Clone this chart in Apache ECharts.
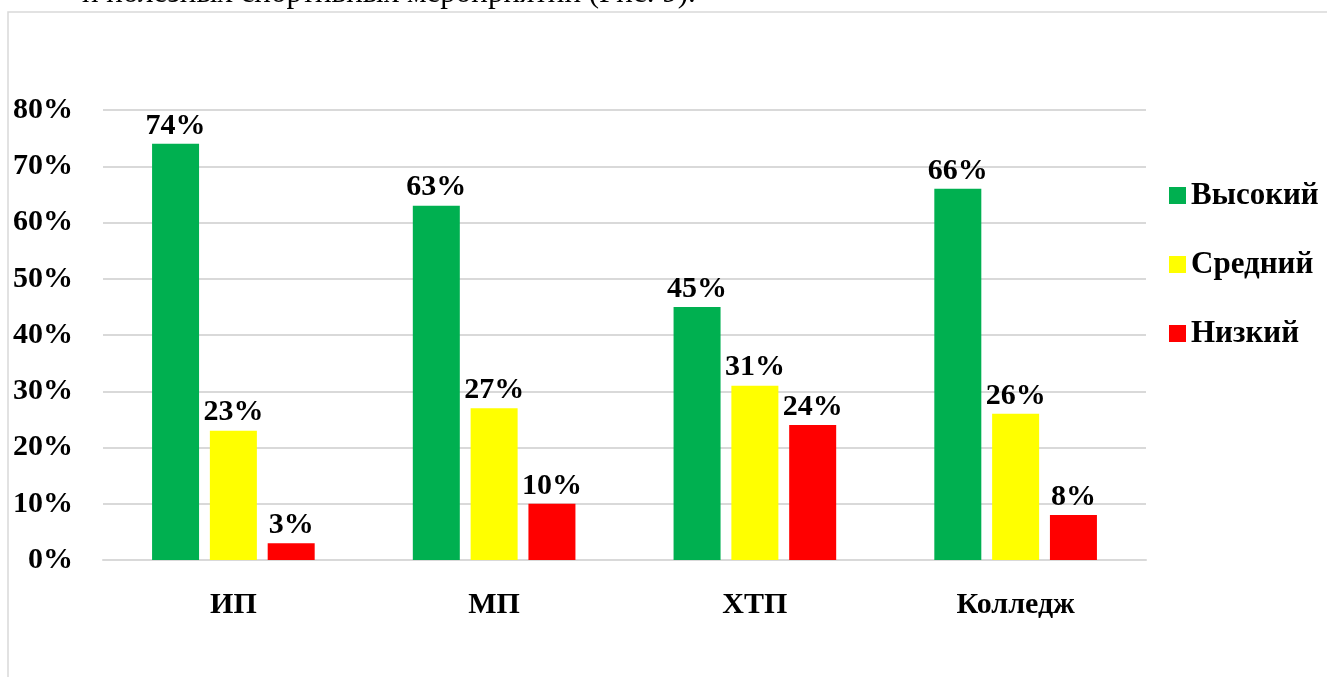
<!DOCTYPE html>
<html lang="ru">
  <head>
    <meta charset="utf-8" />
    <title>Уровень</title>
    <script src="https://cdn.jsdelivr.net/npm/echarts@6/dist/echarts.min.js"></script>
    <style>
      html,
      body {
        margin: 0;
        padding: 0;
        background: #fff;
      }
      #chart1 {
        width: 1327px;
        height: 677px;
      }
    </style>
  </head>
  <body>
    <div id="chart1"></div>
    <script type="text/javascript">
      // данные с рисунка
      var groups = ["ИП", "МП", "ХТП", "Колледж"];
      var levels = ["Высокий", "Средний", "Низкий"];
      var high = [74, 63, 45, 66];
      var middle = [23, 27, 31, 26];
      var low = [3, 10, 24, 8];
      var colors = ["#00b050", "#ffff00", "#ff0000"];

      var font = "'Liberation Serif', 'Times New Roman', serif";

      function barSeries(name, data, color) {
        return {
          name: name,
          type: "bar",
          data: data,
          barWidth: 47,
          barGap: "23%",
          itemStyle: { color: color },
          label: {
            show: true,
            position: "top",
            distance: 3,
            formatter: "{c}%",
            color: "#000",
            fontFamily: font,
            fontWeight: "bold",
            fontSize: 30,
          },
        };
      }

      var myChart = echarts.init(document.getElementById("chart1"));
      myChart.setOption({
        animation: false,
        graphic: [
          {
            type: "rect",
            shape: { x: 8, y: 12, width: 1340, height: 700 },
            style: { fill: "none", stroke: "#d9d9d9", lineWidth: 1.5 },
          },
          {
            type: "text",
            x: 82,
            y: 9,
            style: {
              text: "и полезных спортивных мероприятий (Рис. 9).",
              font: "31px " + font,
              fill: "#000",
              verticalAlign: "bottom",
            },
          },
        ],
        grid: { left: 103, right: 181, top: 110, bottom: 117 },
        legend: {
          orient: "vertical",
          left: 1164,
          top: 175,
          itemWidth: 17,
          itemHeight: 17,
          itemGap: 38,
          icon: "rect",
          data: levels,
          textStyle: {
            color: "#000",
            fontFamily: font,
            fontWeight: "bold",
            fontSize: 31,
          },
        },
        xAxis: {
          type: "category",
          data: groups,
          axisLine: { lineStyle: { color: "#d9d9d9", width: 2 } },
          axisTick: { show: false },
          axisLabel: {
            margin: 30,
            color: "#000",
            fontFamily: font,
            fontWeight: "bold",
            fontSize: 30,
          },
        },
        yAxis: {
          type: "value",
          min: 0,
          max: 80,
          interval: 10,
          axisLine: { show: false },
          axisTick: { show: false },
          splitLine: { lineStyle: { color: "#d9d9d9", width: 2 } },
          axisLabel: {
            formatter: "{value}%",
            margin: 30,
            color: "#000",
            fontFamily: font,
            fontWeight: "bold",
            fontSize: 30,
          },
        },
        series: [
          barSeries(levels[0], high, colors[0]),
          barSeries(levels[1], middle, colors[1]),
          barSeries(levels[2], low, colors[2]),
        ],
      });
    </script>
  </body>
</html>
